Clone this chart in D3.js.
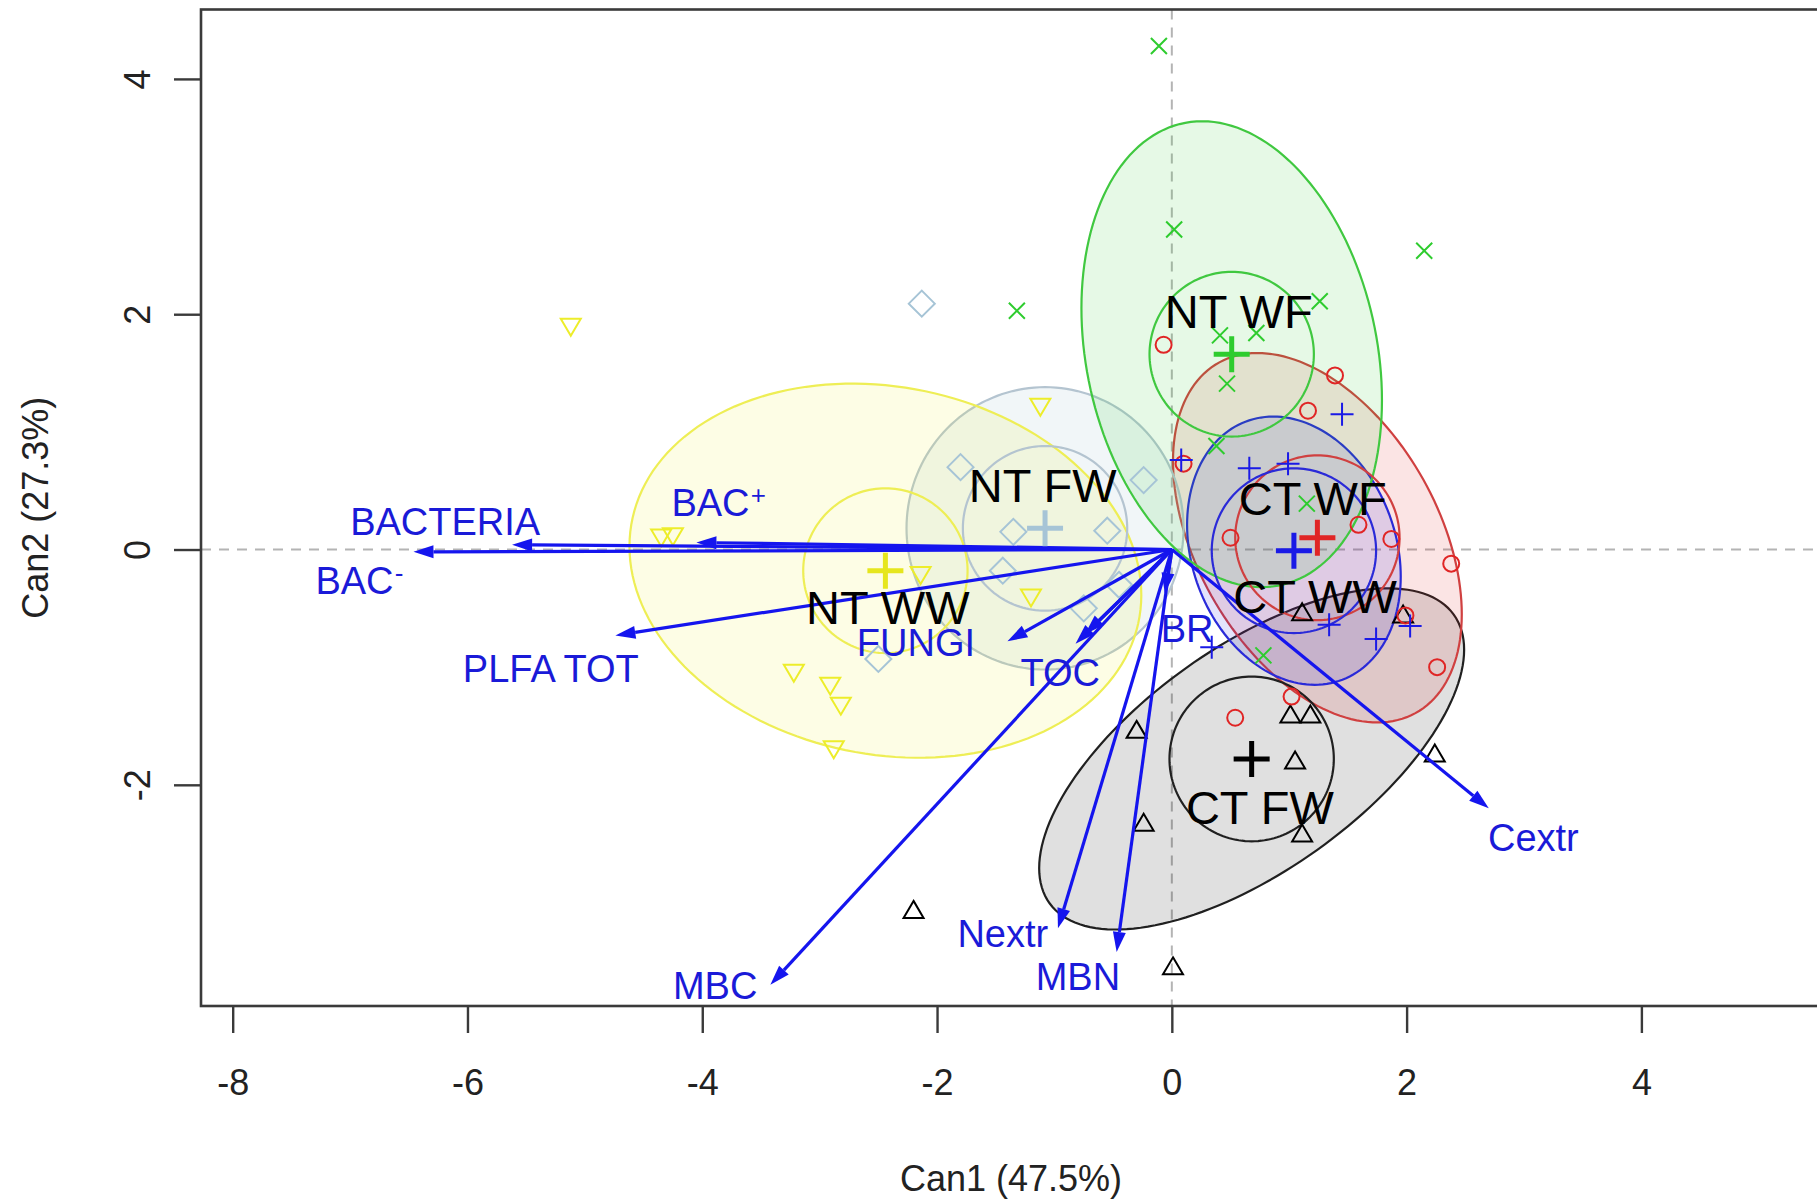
<!DOCTYPE html>
<html>
<head>
<meta charset="utf-8">
<script src="https://cdn.jsdelivr.net/npm/d3@7"></script>
<style>
body { margin:0; background:#fff; }
text { font-family: "Liberation Sans", Arial, Helvetica, sans-serif; }
</style>
</head>
<body>
<div id="chart"></div>
<script>
//################## Data (canonical scores) ##################

var groups      = ["CT FW","CT WF","CT WW","NT FW","NT WF","NT WW"];
var groupColors = ["#000000","#e02525","#1a1ae6","#a6c4d6","#2ecc2e","#eded2a"];
var lineColors  = ["#202020","#d04040","#2a2ad8","#b4c4d0","#40c840","#eeee55"];
var groupSymbols = ["triangle","circle","plus","diamond","cross","triangleDown"];

//group means (big + marks)
var meanX = [0.68, 1.24, 1.04, -1.08, 0.51, -2.44];
var meanY = [-1.78, 0.10, -0.01, 0.18, 1.66, -0.18];

//group label positions
var groupLabelX = [0.75, 1.20, 1.22, -1.10, 0.57, -2.42];
var groupLabelY = [-2.19, 0.44, -0.40, 0.55, 2.03, -0.49];

//outer data ellipses: half width, half height, covariance term
var ellRx  = [1.81, 1.23, 0.91, 1.18, 1.28, 2.18];
var ellRy  = [1.45, 1.57, 1.14, 1.20, 1.98, 1.59];
var ellCov = [1.68, -0.80, -0.20, 0.00, -0.50, -0.45];
var innerRadius = 0.70;

//observations per group
var ptsCTFW = [[-0.30,-1.55],[-0.24,-2.34],[1.01,-1.42],[1.18,-1.42],[1.05,-1.81],[1.11,-2.43],
               [2.24,-1.75],[0.01,-3.56],[1.11,-0.55],[1.97,-0.57],[-2.20,-3.08]];
var ptsCTWF = [[-0.07,1.74],[1.39,1.48],[1.16,1.18],[0.10,0.73],[0.50,0.10],[1.59,0.21],
               [1.87,0.09],[2.38,-0.12],[2.26,-1.00],[1.99,-0.56],[0.54,-1.43],[1.02,-1.25]];
var ptsCTWW = [[1.45,1.15],[0.08,0.76],[0.66,0.69],[0.99,0.73],[1.34,-0.64],[1.74,-0.76],
               [2.03,-0.65],[0.34,-0.83]];
var ptsNTFW = [[-2.13,2.09],[-1.80,0.70],[-0.24,0.59],[-0.55,0.16],[-1.35,0.15],[-2.50,-0.93],
               [-1.44,-0.18],[-0.45,-0.30],[-0.75,-0.50]];
var ptsNTWF = [[-0.11,4.28],[0.02,2.72],[2.15,2.54],[-1.32,2.03],[1.26,2.11],[0.41,1.82],
               [0.72,1.84],[0.47,1.41],[0.38,0.88],[1.15,0.39],[0.78,-0.90]];
var ptsNTWW = [[-5.12,1.91],[-4.35,0.12],[-4.25,0.13],[-3.22,-1.03],[-2.91,-1.14],[-2.82,-1.31],
               [-2.88,-1.68],[-1.12,1.23],[-1.20,-0.39],[-2.14,-0.20]];
var pointsByGroup = [ptsCTFW, ptsCTWF, ptsCTWW, ptsNTFW, ptsNTWF, ptsNTWW];

//structure vectors
var vecName   = ["BACTERIA","BAC","BAC","PLFA TOT","FUNGI","TOC","","BR","MBC","Nextr","MBN","Cextr"];
var vecSup    = ["","-","+","","","","","","","","",""];
var vecX      = [-5.62,-6.46,-4.05,-4.74,-1.40,-0.82,-0.74,-0.06,-3.42,-0.97,-0.47,2.70];
var vecY      = [0.04,-0.02,0.06,-0.73,-0.78,-0.80,-0.72,-0.37,-3.70,-3.22,-3.42,-2.20];
var vecLabelX = [-6.19,-6.92,-3.86,-5.29,-2.18,-0.95,0,0.13,-3.89,-1.44,-0.80,3.08];
var vecLabelY = [0.24,-0.26,0.40,-1.01,-0.79,-1.04,0,-0.67,-3.70,-3.26,-3.63,-2.45];

var xTicks = [-8,-6,-4,-2,0,2,4];
var yTicks = [-2,0,2,4];
var xTitle = "Can1 (47.5%)";
var yTitle = "Can2 (27.3%)";

//################## Chart ##################

var width = 1817, height = 1204;
var svg = d3.select("#chart").append("svg")
	.attr("width",width).attr("height",height)
	.style("background","#fff");

var x = d3.scaleLinear().domain([-8.27,5.53]).range([201,1821]);
var y = d3.scaleLinear().domain([-3.88,4.59]).range([1006,9.5]);

svg.append("clipPath").attr("id","plotClip").append("rect")
	.attr("x",x.range()[0]).attr("y",y.range()[1])
	.attr("width",x.range()[1]-x.range()[0]).attr("height",y.range()[0]-y.range()[1]);

var plot = svg.append("g").attr("clip-path","url(#plotClip)");

//zero reference lines
plot.append("line").attr("x1",x(0)).attr("x2",x(0)).attr("y1",y.range()[1]).attr("y2",y.range()[0])
	.attr("stroke","#b4b4b4").attr("stroke-width",2).attr("stroke-dasharray","10,8");
plot.append("line").attr("x1",x.range()[0]).attr("x2",x.range()[1]).attr("y1",y(0)).attr("y2",y(0))
	.attr("stroke","#b4b4b4").attr("stroke-width",2).attr("stroke-dasharray","10,8");

//ellipse outline from half width/height and covariance
function ellipsePoints(cx, cy, rx, ry, cov){
	var b = cov/rx, c = Math.sqrt(ry*ry - b*b);
	return d3.range(0,160).map(function(i){
		var t = i/160*2*Math.PI;
		return [cx + rx*Math.cos(t), cy + b*Math.cos(t) + c*Math.sin(t)];
	});
}
var ellLine = d3.line().x(function(d){ return x(d[0]); }).y(function(d){ return y(d[1]); })
	.curve(d3.curveLinearClosed);

var ellG = plot.append("g");
groups.forEach(function(g,i){
	ellG.append("path")
		.attr("d",ellLine(ellipsePoints(meanX[i],meanY[i],ellRx[i],ellRy[i],ellCov[i])))
		.attr("fill",groupColors[i]).attr("fill-opacity",i==3 ? 0.16 : 0.12)
		.attr("stroke",lineColors[i]).attr("stroke-width",2.2);
});
groups.forEach(function(g,i){
	ellG.append("path")
		.attr("d",ellLine(ellipsePoints(meanX[i],meanY[i],innerRadius,innerRadius,0)))
		.attr("fill","none")
		.attr("stroke",lineColors[i]).attr("stroke-width",2.2);
});

//point symbols
function symbolPath(type){
	switch(type){
		case "circle": return "M8,0A8,8 0 1,1 -8,0A8,8 0 1,1 8,0Z";
		case "triangle": return "M0,-11L10,6L-10,6Z";
		case "triangleDown": return "M0,11L10,-6L-10,-6Z";
		case "plus": return "M-11.5,0H11.5M0,-11.5V11.5";
		case "cross": return "M-8,-8L8,8M-8,8L8,-8";
		case "diamond": return "M0,-13L13,0L0,13L-13,0Z";
	}
}

var ptsG = plot.append("g");
pointsByGroup.forEach(function(pts,i){
	ptsG.selectAll("path.g"+i)
		.data(pts).enter().append("path")
		.attr("class","g"+i)
		.attr("transform",function(d){ return "translate("+x(d[0])+","+y(d[1])+")"; })
		.attr("d",symbolPath(groupSymbols[i]))
		.attr("fill","none").attr("stroke",groupColors[i]).attr("stroke-width",2);
});

//structure vectors with filled heads
var vecG = plot.append("g");
vecX.forEach(function(vx,i){
	var x0 = x(0), y0 = y(0), x1 = x(vx), y1 = y(vecY[i]);
	var len = Math.sqrt((x1-x0)*(x1-x0)+(y1-y0)*(y1-y0));
	var ux = (x1-x0)/len, uy = (y1-y0)/len;
	var hl = 20, hw = 6.5;
	var bx = x1 - ux*hl, by = y1 - uy*hl;
	vecG.append("line").attr("x1",x0).attr("y1",y0).attr("x2",bx).attr("y2",by)
		.attr("stroke","#1515ee").attr("stroke-width",3.2);
	vecG.append("path")
		.attr("d","M"+x1+","+y1+"L"+(bx-uy*hw)+","+(by+ux*hw)+"L"+(bx+uy*hw)+","+(by-ux*hw)+"Z")
		.attr("fill","#1515ee");
});

//group mean markers
meanX.forEach(function(mx,i){
	plot.append("path")
		.attr("transform","translate("+x(mx)+","+y(meanY[i])+")")
		.attr("d","M-18,0H18M0,-18V18")
		.attr("stroke",i==5 ? "#e6e61e" : groupColors[i]).attr("stroke-width",5);
});

//group labels
groups.forEach(function(g,i){
	plot.append("text")
		.attr("x",x(groupLabelX[i])).attr("y",y(groupLabelY[i]))
		.attr("text-anchor","middle").attr("dy","0.36em")
		.attr("font-size",47).attr("fill","#000")
		.text(g);
});

//vector labels
vecName.forEach(function(n,i){
	if(n == "") return;
	var t = plot.append("text")
		.attr("x",x(vecLabelX[i])).attr("y",y(vecLabelY[i]))
		.attr("text-anchor","middle").attr("dy","0.36em")
		.attr("font-size",38).attr("fill","#1a1ad8");
	t.append("tspan").text(n);
	if(vecSup[i] != ""){
		t.append("tspan").attr("dy","-0.45em").attr("dx","0.05em").attr("font-size",26).text(vecSup[i]);
	}
});

//box
svg.append("rect")
	.attr("x",x.range()[0]).attr("y",y.range()[1])
	.attr("width",x.range()[1]-x.range()[0]).attr("height",y.range()[0]-y.range()[1])
	.attr("fill","none").attr("stroke","#3a3a3a").attr("stroke-width",2.6);

//axes
var xaxis = d3.axisBottom(x).tickValues(xTicks).tickSize(27).tickPadding(36).tickFormat(d3.format("d"));
var gx = svg.append("g").attr("transform","translate(0,"+y.range()[0]+")").call(xaxis);
gx.select(".domain").remove();
gx.selectAll(".tick line").attr("stroke","#3a3a3a").attr("stroke-width",2.4);
gx.selectAll(".tick text").attr("font-size",36).attr("fill","#222")
	.attr("font-family","'Liberation Sans', Arial, sans-serif")
	.text(function(d){ return d < 0 ? "-"+Math.abs(d) : d; });

var yaxis = d3.axisLeft(y).tickValues(yTicks).tickSize(27).tickFormat("");
var gy = svg.append("g").attr("transform","translate("+x.range()[0]+",0)").call(yaxis);
gy.select(".domain").remove();
gy.selectAll(".tick line").attr("stroke","#3a3a3a").attr("stroke-width",2.4);
gy.selectAll(".tick").append("text")
	.attr("transform","translate(-51,0) rotate(-90)")
	.attr("text-anchor","middle").attr("fill","#222").attr("font-size",36)
	.attr("font-family","'Liberation Sans', Arial, sans-serif")
	.text(function(d){ return d < 0 ? "-"+Math.abs(d) : d; });

//axis titles
svg.append("text")
	.attr("x",(x.range()[0]+x.range()[1])/2).attr("y",1191)
	.attr("text-anchor","middle").attr("font-size",36).attr("fill","#222")
	.text(xTitle);
svg.append("text")
	.attr("transform","translate(48,"+((y.range()[0]+y.range()[1])/2)+") rotate(-90)")
	.attr("text-anchor","middle").attr("font-size",36).attr("fill","#222")
	.text(yTitle);
</script>
</body>
</html>
